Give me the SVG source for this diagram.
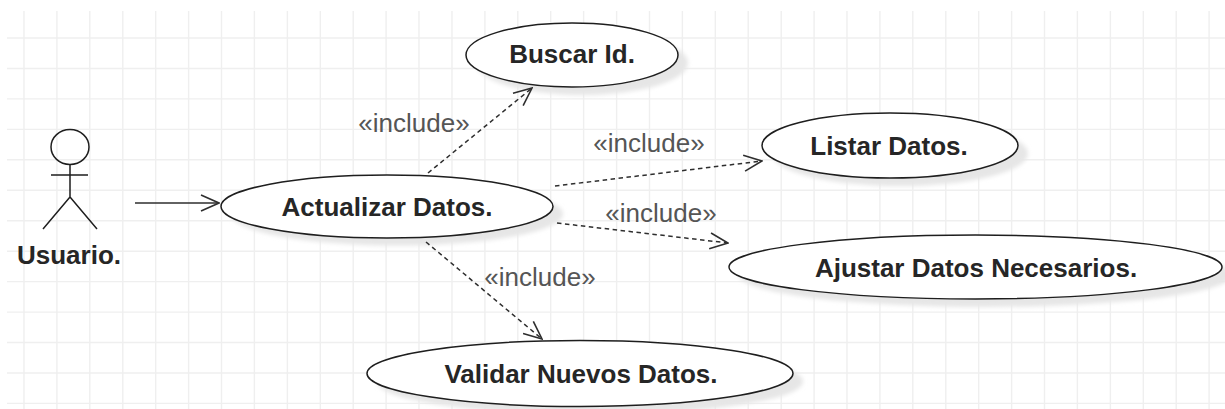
<svg xmlns="http://www.w3.org/2000/svg" width="1225" height="409" viewBox="0 0 1225 409">
<style>
.grid{stroke:#efefef;stroke-width:1.4;fill:none}
.uc{fill:#ffffff;stroke:#1e1e1e;stroke-width:1.5}
.sh{fill:#e6e6e6;filter:url(#blur)}
.lbl{font-family:"Liberation Sans",Arial,sans-serif;font-weight:bold;font-size:26px;fill:#262626;text-anchor:middle}
.inc{font-family:"Liberation Sans",Arial,sans-serif;font-size:26px;fill:#555555;text-anchor:middle}
.dash{stroke:#2e2e2e;stroke-width:1.5;stroke-dasharray:4.5 3.5;fill:none;marker-end:url(#open)}
.solid{stroke:#2e2e2e;stroke-width:1.6;fill:none;marker-end:url(#open)}
.actor{stroke:#1e1e1e;stroke-width:1.5;fill:none}
</style>
<defs>
<filter id="blur" x="-10%" y="-20%" width="120%" height="140%"><feGaussianBlur stdDeviation="2"/></filter>
<marker id="open" markerUnits="userSpaceOnUse" viewBox="0 0 20 18" markerWidth="20" markerHeight="18" refX="19" refY="9" orient="auto">
<path d="M1,1 L19,9 L1,17" fill="none" stroke="#2e2e2e" stroke-width="1.6" stroke-dasharray="none"/>
</marker>
</defs>
<rect width="1225" height="409" fill="#ffffff"/>
<path class="grid" d="M24,11V409M56.9,11V409M89.8,11V409M122.8,11V409M155.7,11V409M188.6,11V409M221.5,11V409M254.4,11V409M287.4,11V409M320.3,11V409M353.2,11V409M386.1,11V409M419,11V409M452,11V409M484.9,11V409M517.8,11V409M550.7,11V409M583.6,11V409M616.6,11V409M649.5,11V409M682.4,11V409M715.3,11V409M748.2,11V409M781.2,11V409M814.1,11V409M847,11V409M879.9,11V409M912.8,11V409M945.8,11V409M978.7,11V409M1011.6,11V409M1044.5,11V409M1077.4,11V409M1110.4,11V409M1143.3,11V409M1176.2,11V409M1209.1,11V409M7,38H1225M7,68.5H1225M7,98.9H1225M7,129.4H1225M7,159.8H1225M7,190.3H1225M7,220.7H1225M7,251.2H1225M7,281.6H1225M7,312.1H1225M7,342.5H1225M7,373H1225M7,403.4H1225"/>

<g id="actor-usuario">
<ellipse class="actor" cx="70" cy="147" rx="19" ry="17.5"/>
<path class="actor" d="M70,164.5V197M51,175H88M70,197L43,229M70,197L97,229"/>
<text class="lbl" x="69" y="264">Usuario.</text>
</g>

<g id="uc-actualizar">
<ellipse class="sh" cx="397" cy="214" rx="166" ry="31.5"/>
<ellipse class="uc" cx="387" cy="206.5" rx="166" ry="31.5"/>
<text class="lbl" x="387" y="216">Actualizar Datos.</text>
</g>

<g id="uc-buscar">
<ellipse class="sh" cx="582" cy="63" rx="106" ry="32"/>
<ellipse class="uc" cx="572" cy="55" rx="106" ry="32"/>
<text class="lbl" x="572" y="63">Buscar Id.</text>
</g>

<g id="uc-listar">
<ellipse class="sh" cx="900" cy="153.5" rx="128" ry="32.5"/>
<ellipse class="uc" cx="890" cy="145.5" rx="128" ry="32.5"/>
<text class="lbl" x="889" y="155">Listar Datos.</text>
</g>

<g id="uc-ajustar">
<ellipse class="sh" cx="985.5" cy="275" rx="246.5" ry="32"/>
<ellipse class="uc" cx="975.5" cy="267" rx="246.5" ry="32"/>
<text class="lbl" x="976" y="277">Ajustar Datos Necesarios.</text>
</g>

<g id="uc-validar">
<ellipse class="sh" cx="590" cy="381.5" rx="213" ry="33"/>
<ellipse class="uc" cx="580" cy="373.5" rx="213" ry="33"/>
<text class="lbl" x="581" y="383">Validar Nuevos Datos.</text>
</g>

<g id="connectors">
<line class="solid" x1="135" y1="203" x2="219" y2="203"/>
<line class="dash" x1="428" y1="173" x2="532" y2="88"/>
<line class="dash" x1="555" y1="186" x2="762" y2="161"/>
<line class="dash" x1="557" y1="223" x2="728" y2="243"/>
<line class="dash" x1="426" y1="242" x2="542" y2="339"/>
<text class="inc" x="414" y="132">«include»</text>
<text class="inc" x="649" y="152">«include»</text>
<text class="inc" x="661" y="222">«include»</text>
<text class="inc" x="540" y="286">«include»</text>
</g>
</svg>
